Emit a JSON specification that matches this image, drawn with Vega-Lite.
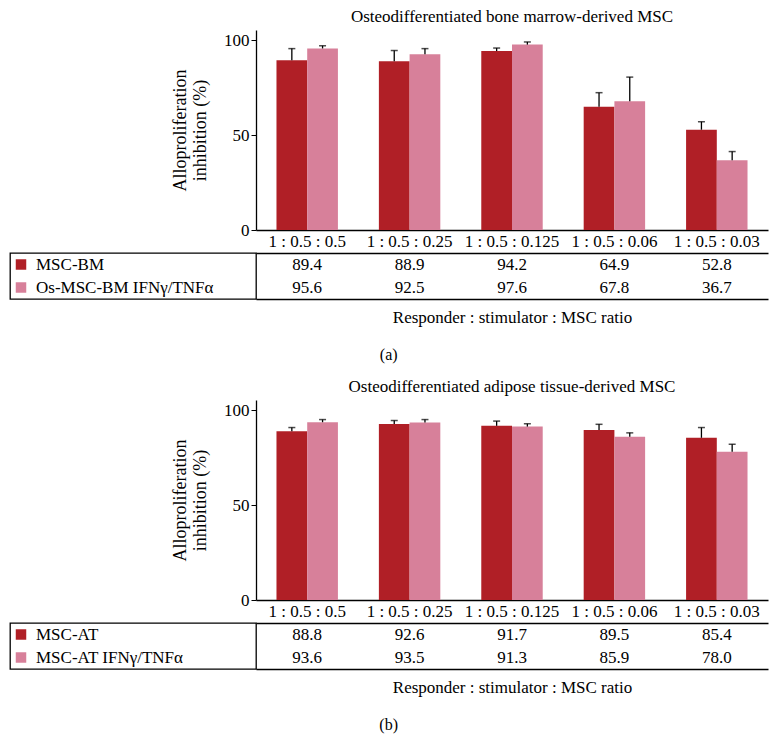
{
  "$schema": "https://vega.github.io/schema/vega-lite/v6.json",
  "background": "white",
  "padding": {"left": 9, "top": 8, "right": 5, "bottom": 5},
  "datasets": {
    "a": [
      {"cat": "1 : 0.5 : 0.5", "grp": "base", "name": "MSC-BM", "value": 89.4, "hi": 95.5},
      {"cat": "1 : 0.5 : 0.5", "grp": "ifn", "name": "Os-MSC-BM IFNγ/TNFα", "value": 95.6, "hi": 97.0},
      {"cat": "1 : 0.5 : 0.25", "grp": "base", "name": "MSC-BM", "value": 88.9, "hi": 94.5},
      {"cat": "1 : 0.5 : 0.25", "grp": "ifn", "name": "Os-MSC-BM IFNγ/TNFα", "value": 92.5, "hi": 95.5},
      {"cat": "1 : 0.5 : 0.125", "grp": "base", "name": "MSC-BM", "value": 94.2, "hi": 95.8},
      {"cat": "1 : 0.5 : 0.125", "grp": "ifn", "name": "Os-MSC-BM IFNγ/TNFα", "value": 97.6, "hi": 99.0},
      {"cat": "1 : 0.5 : 0.06", "grp": "base", "name": "MSC-BM", "value": 64.9, "hi": 72.3},
      {"cat": "1 : 0.5 : 0.06", "grp": "ifn", "name": "Os-MSC-BM IFNγ/TNFα", "value": 67.8, "hi": 80.5},
      {"cat": "1 : 0.5 : 0.03", "grp": "base", "name": "MSC-BM", "value": 52.8, "hi": 57.0},
      {"cat": "1 : 0.5 : 0.03", "grp": "ifn", "name": "Os-MSC-BM IFNγ/TNFα", "value": 36.7, "hi": 41.3}
    ],
    "b": [
      {"cat": "1 : 0.5 : 0.5", "grp": "base", "name": "MSC-AT", "value": 88.8, "hi": 90.8},
      {"cat": "1 : 0.5 : 0.5", "grp": "ifn", "name": "MSC-AT IFNγ/TNFα", "value": 93.6, "hi": 95.0},
      {"cat": "1 : 0.5 : 0.25", "grp": "base", "name": "MSC-AT", "value": 92.6, "hi": 94.5},
      {"cat": "1 : 0.5 : 0.25", "grp": "ifn", "name": "MSC-AT IFNγ/TNFα", "value": 93.5, "hi": 95.0},
      {"cat": "1 : 0.5 : 0.125", "grp": "base", "name": "MSC-AT", "value": 91.7, "hi": 94.2},
      {"cat": "1 : 0.5 : 0.125", "grp": "ifn", "name": "MSC-AT IFNγ/TNFα", "value": 91.3, "hi": 92.8},
      {"cat": "1 : 0.5 : 0.06", "grp": "base", "name": "MSC-AT", "value": 89.5, "hi": 92.5},
      {"cat": "1 : 0.5 : 0.06", "grp": "ifn", "name": "MSC-AT IFNγ/TNFα", "value": 85.9, "hi": 88.0},
      {"cat": "1 : 0.5 : 0.03", "grp": "base", "name": "MSC-AT", "value": 85.4, "hi": 90.8},
      {"cat": "1 : 0.5 : 0.03", "grp": "ifn", "name": "MSC-AT IFNγ/TNFα", "value": 78.0, "hi": 82.0}
    ]
  },
  "vconcat": [
    {
      "title": {"text": "(a)", "orient": "bottom", "anchor": "middle", "fontSize": 16, "fontWeight": "normal", "offset": 22},
      "columns": 2,
      "spacing": {"row": 23, "column": 0},
      "bounds": "flush",
      "concat": [
        {"width": 246, "height": 200, "data": {"values": []}, "mark": "point"},
        {
          "width": 512, "height": 200,
          "data": {"name": "a"},
          "title": {"text": "Osteodifferentiated bone marrow-derived MSC", "fontSize": 17, "fontWeight": "normal", "offset": 4},
          "encoding": {
            "x": {"field": "cat", "type": "nominal", "sort": null, "title": null,
                  "scale": {"paddingInner": 0.4, "paddingOuter": 0.2},
                  "axis": {"ticks": false, "labelAngle": 0, "labelPadding": 3}},
            "xOffset": {"field": "grp", "type": "nominal", "sort": ["base", "ifn"]}
          },
          "layer": [
            {
              "mark": "bar",
              "encoding": {
                "y": {"field": "value", "type": "quantitative", "scale": {"domain": [0, 105.3], "nice": false},
                      "title": ["Alloproliferation", "inhibition (%)"],
                      "axis": {"values": [0, 50, 100], "grid": false, "tickSize": 5, "titlePadding": 14, "titleFontSize": 18}},
                "color": {"field": "grp", "type": "nominal", "scale": {"domain": ["base", "ifn"], "range": ["#B01F26", "#D7809A"]}, "legend": null}
              }
            },
            {
              "mark": {"type": "rule", "color": "black", "strokeWidth": 1.3},
              "encoding": {"y": {"field": "value", "type": "quantitative"}, "y2": {"field": "hi"}}
            },
            {
              "mark": {"type": "tick", "orient": "horizontal", "color": "black", "size": 7, "thickness": 1.5},
              "encoding": {"y": {"field": "hi", "type": "quantitative"}}
            }
          ]
        },
        {
          "width": 246, "height": 46,
          "view": {"stroke": "black", "strokeWidth": 1.3},
          "data": {"name": "a"},
          "transform": [{"filter": "datum.cat == '1 : 0.5 : 0.5'"}],
          "encoding": {"y": {"field": "grp", "type": "nominal", "sort": ["base", "ifn"], "axis": null}},
          "layer": [
            {
              "mark": {"type": "square", "filled": true, "size": 110, "opacity": 1},
              "encoding": {
                "x": {"value": 11},
                "color": {"field": "grp", "type": "nominal", "scale": {"domain": ["base", "ifn"], "range": ["#B01F26", "#D7809A"]}, "legend": null}
              }
            },
            {
              "mark": {"type": "text", "align": "left", "fontSize": 17},
              "encoding": {"x": {"value": 26}, "text": {"field": "name"}}
            }
          ]
        },
        {
          "width": 512, "height": 46,
          "data": {"name": "a"},
          "encoding": {
            "y": {"field": "grp", "type": "nominal", "sort": ["base", "ifn"], "axis": null}
          },
          "layer": [
            {
              "mark": {"type": "text", "fontSize": 17},
              "encoding": {
                "x": {"field": "cat", "type": "nominal", "sort": null, "title": "Responder : stimulator : MSC ratio",
                      "axis": {"orient": "bottom", "labels": false, "ticks": false, "titlePadding": 10}},
                "text": {"field": "value", "type": "quantitative", "format": ".1f"}
              }
            },
            {
              "mark": {"type": "text", "opacity": 0},
              "encoding": {
                "x": {"field": "cat", "type": "nominal", "sort": null, "title": null,
                      "axis": {"orient": "top", "labels": false, "ticks": false}},
                "text": {"field": "value", "type": "quantitative"}
              }
            }
          ],
          "resolve": {"axis": {"x": "independent"}}
        }
      ]
    },
    {
      "title": {"text": "(b)", "orient": "bottom", "anchor": "middle", "fontSize": 16, "fontWeight": "normal", "offset": 22},
      "columns": 2,
      "spacing": {"row": 23, "column": 0},
      "bounds": "flush",
      "concat": [
        {"width": 246, "height": 200, "data": {"values": []}, "mark": "point"},
        {
          "width": 512, "height": 200,
          "data": {"name": "b"},
          "title": {"text": "Osteodifferentiated adipose tissue-derived MSC", "fontSize": 17, "fontWeight": "normal", "offset": 4},
          "encoding": {
            "x": {"field": "cat", "type": "nominal", "sort": null, "title": null,
                  "scale": {"paddingInner": 0.4, "paddingOuter": 0.2},
                  "axis": {"ticks": false, "labelAngle": 0, "labelPadding": 3}},
            "xOffset": {"field": "grp", "type": "nominal", "sort": ["base", "ifn"]}
          },
          "layer": [
            {
              "mark": "bar",
              "encoding": {
                "y": {"field": "value", "type": "quantitative", "scale": {"domain": [0, 105.3], "nice": false},
                      "title": ["Alloproliferation", "inhibition (%)"],
                      "axis": {"values": [0, 50, 100], "grid": false, "tickSize": 5, "titlePadding": 14, "titleFontSize": 18}},
                "color": {"field": "grp", "type": "nominal", "scale": {"domain": ["base", "ifn"], "range": ["#B01F26", "#D7809A"]}, "legend": null}
              }
            },
            {
              "mark": {"type": "rule", "color": "black", "strokeWidth": 1.3},
              "encoding": {"y": {"field": "value", "type": "quantitative"}, "y2": {"field": "hi"}}
            },
            {
              "mark": {"type": "tick", "orient": "horizontal", "color": "black", "size": 7, "thickness": 1.5},
              "encoding": {"y": {"field": "hi", "type": "quantitative"}}
            }
          ]
        },
        {
          "width": 246, "height": 46,
          "view": {"stroke": "black", "strokeWidth": 1.3},
          "data": {"name": "b"},
          "transform": [{"filter": "datum.cat == '1 : 0.5 : 0.5'"}],
          "encoding": {"y": {"field": "grp", "type": "nominal", "sort": ["base", "ifn"], "axis": null}},
          "layer": [
            {
              "mark": {"type": "square", "filled": true, "size": 110, "opacity": 1},
              "encoding": {
                "x": {"value": 11},
                "color": {"field": "grp", "type": "nominal", "scale": {"domain": ["base", "ifn"], "range": ["#B01F26", "#D7809A"]}, "legend": null}
              }
            },
            {
              "mark": {"type": "text", "align": "left", "fontSize": 17},
              "encoding": {"x": {"value": 26}, "text": {"field": "name"}}
            }
          ]
        },
        {
          "width": 512, "height": 46,
          "data": {"name": "b"},
          "encoding": {
            "y": {"field": "grp", "type": "nominal", "sort": ["base", "ifn"], "axis": null}
          },
          "layer": [
            {
              "mark": {"type": "text", "fontSize": 17},
              "encoding": {
                "x": {"field": "cat", "type": "nominal", "sort": null, "title": "Responder : stimulator : MSC ratio",
                      "axis": {"orient": "bottom", "labels": false, "ticks": false, "titlePadding": 10}},
                "text": {"field": "value", "type": "quantitative", "format": ".1f"}
              }
            },
            {
              "mark": {"type": "text", "opacity": 0},
              "encoding": {
                "x": {"field": "cat", "type": "nominal", "sort": null, "title": null,
                      "axis": {"orient": "top", "labels": false, "ticks": false}},
                "text": {"field": "value", "type": "quantitative"}
              }
            }
          ],
          "resolve": {"axis": {"x": "independent"}}
        }
      ]
    }
  ],
  "spacing": 15,
  "config": {
    "font": "Times New Roman, Liberation Serif, serif",
    "view": {"stroke": null},
    "axis": {"domainColor": "black", "tickColor": "black", "domainWidth": 1.3,
             "labelFont": "Times New Roman, Liberation Serif, serif", "labelFontSize": 17, "labelColor": "black",
             "titleFont": "Times New Roman, Liberation Serif, serif", "titleFontSize": 17, "titleFontWeight": "normal", "titleColor": "black"},
    "style": {
      "guide-label": {"font": "Times New Roman, Liberation Serif, serif", "fontSize": 17, "fill": "black"},
      "guide-title": {"font": "Times New Roman, Liberation Serif, serif", "fontWeight": "normal", "fill": "black"}
    },
    "text": {"font": "Times New Roman, Liberation Serif, serif", "color": "black"},
    "title": {"font": "Times New Roman, Liberation Serif, serif", "color": "black"}
  }
}
